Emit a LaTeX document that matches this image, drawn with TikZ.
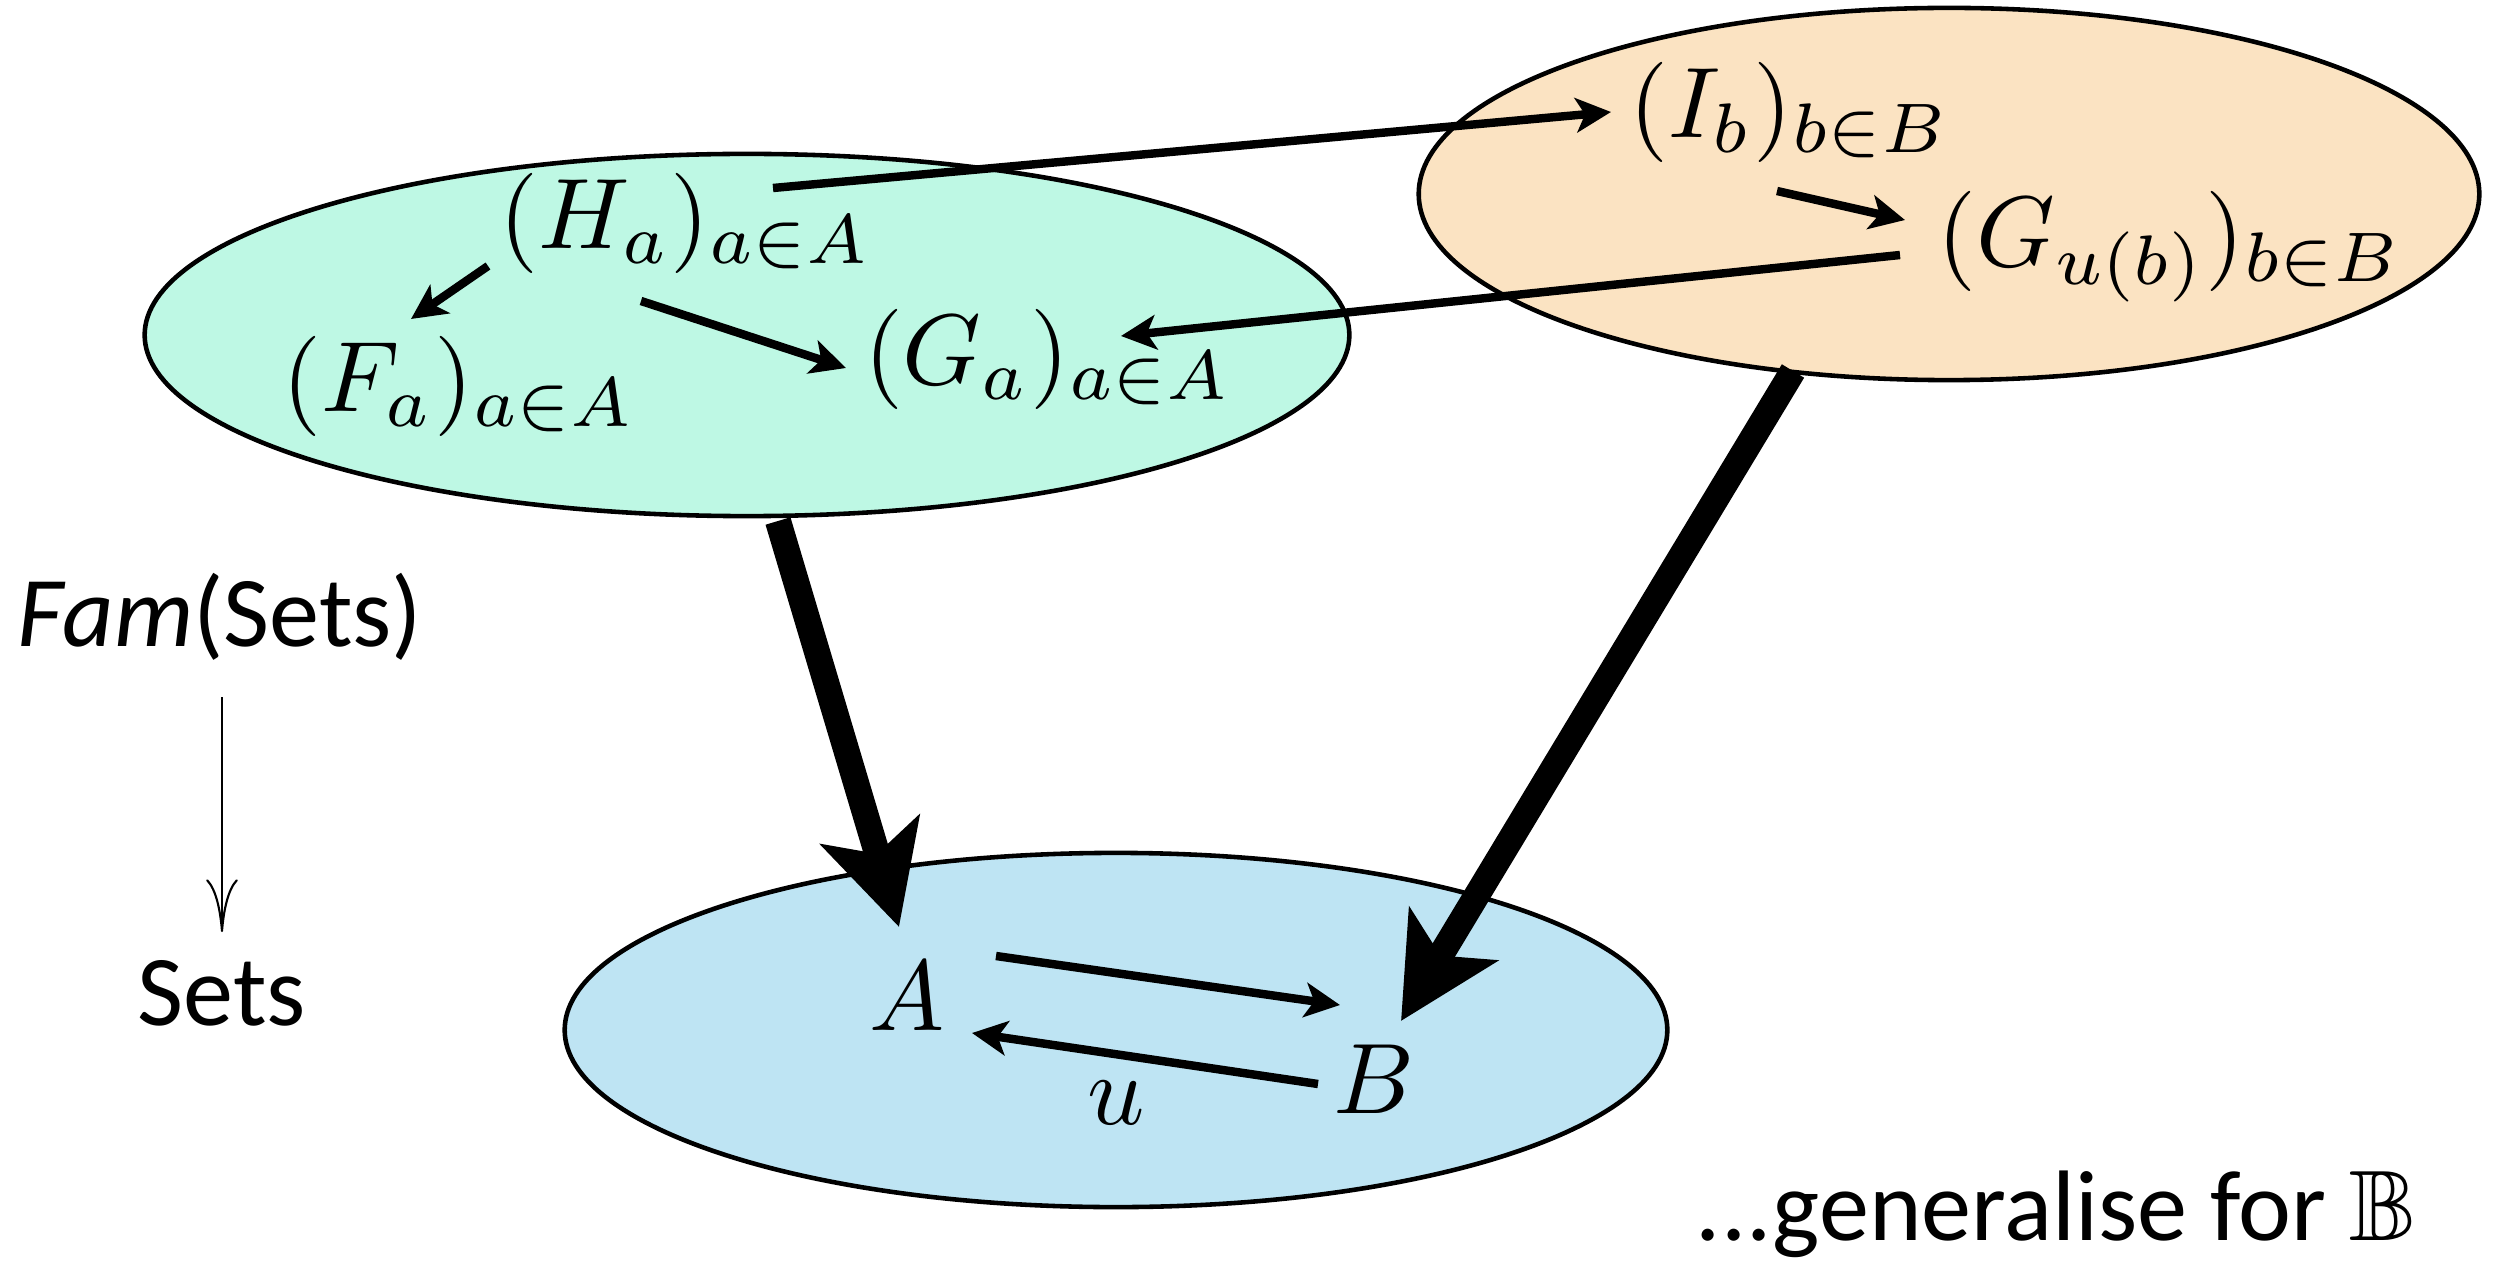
\documentclass[tikz,border=0pt]{standalone}
\usepackage{amssymb}
\usepackage[no-math]{fontspec}
\newfontfamily\optf{Carlito}
\usetikzlibrary{arrows.meta,shapes.geometric}
\definecolor{famgreen}{RGB}{190,248,228}
\definecolor{famorange}{RGB}{251,227,194}
\definecolor{famblue}{RGB}{190,228,243}
\begin{document}
\begin{tikzpicture}[x=0.01cm,y=-0.01cm,
  mathlbl/.style={inner sep=0pt, font=\normalsize, scale=2.85},
  txtlbl/.style={inner sep=0pt, font=\optf\fontsize{28.5}{34}\selectfont},
  blob/.style={ellipse, draw=black, line width=1.3pt, inner sep=0pt},
  thinarr/.style={-{Stealth[length=10pt,width=9.8pt,inset=2.6pt]}, line width=2.4pt},
  thickarr/.style={-{Stealth[length=28.7pt,width=29pt,inset=7pt]}, line width=7.4pt},
  cmarr/.style={-{Computer Modern Rightarrow[length=15pt,width=9pt]}, line width=0.6pt}
]
\useasboundingbox (0,0) rectangle (2500,1264);
% regions
\node[blob, fill=famgreen, minimum width=12.04cm, minimum height=3.62cm] (green) at (747,335) {};
\node[blob, fill=famorange, minimum width=10.6cm, minimum height=3.72cm] (orange) at (1949,194) {};
\node[blob, fill=famblue, minimum width=11.02cm, minimum height=3.54cm] (blue) at (1116,1030) {};
% labels
\node[mathlbl] (H) at (686,223) {$(H_a)_{a\in A}$};
\node[mathlbl] (F) at (459,386) {$(F_a)_{a\in A}$};
\node[mathlbl] (Ga) at (1048,359) {$(G_a)_{a\in A}$};
\node[mathlbl] (I) at (1790,112) {$(I_b)_{b\in B}$};
\node[mathlbl] (Gu) at (2170,247) {$(G_{u(b)})_{b\in B}$};
\node[mathlbl] (A) at (907,996) {$A$};
\node[mathlbl] (B) at (1374,1079) {$B$};
\node[mathlbl] (u) at (1116,1103) {$u$};
\node[txtlbl, anchor=base] (fam) at (220,646) {{\itshape Fam}(Sets)};
\node[txtlbl, anchor=base] (sets) at (222,1025) {Sets};
\node[txtlbl, anchor=base] (gen) at (2056,1240) {...generalise for $\mathbb{B}$};
% connector ends
\coordinate (hf1) at (488,266); \coordinate (hf2) at (411,319);
\coordinate (hg1) at (641,301); \coordinate (hg2) at (846,368);
\coordinate (hi1) at (773,188); \coordinate (hi2) at (1611,112);
\coordinate (ig1) at (1777,191); \coordinate (ig2) at (1905,220);
\coordinate (gg1) at (1900,255); \coordinate (gg2) at (1121,336);
\coordinate (ab1) at (996,956); \coordinate (ab2) at (1340,1005);
\coordinate (ba1) at (1318,1084); \coordinate (ba2) at (972,1033);
\coordinate (ta1) at (778,521); \coordinate (ta2) at (899,927);
\coordinate (tb1) at (1793,371); \coordinate (tb2) at (1401,1021);
\coordinate (fs1) at (222,697); \coordinate (fs2) at (222,932);
% connectors
\draw[thinarr] (hf1) -- (hf2);
\draw[thinarr] (hg1) -- (hg2);
\draw[thinarr] (hi1) -- (hi2);
\draw[thinarr] (ig1) -- (ig2);
\draw[thinarr] (gg1) -- (gg2);
\draw[thinarr] (ab1) -- (ab2);
\draw[thinarr] (ba1) -- (ba2);
\draw[thickarr] (ta1) -- (ta2);
\draw[thickarr] (tb1) -- (tb2);
\draw[cmarr] (fs1) -- (fs2);
\end{tikzpicture}
\end{document}
